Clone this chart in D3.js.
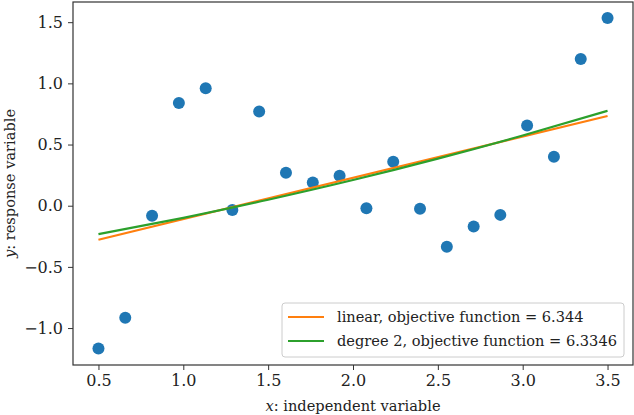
<!DOCTYPE html>
<html>
<head>
<meta charset="utf-8">
<script src="https://cdn.jsdelivr.net/npm/d3@7"></script>
<style>
  body { margin: 0; background: #fff; }
  text { font-family: "DejaVu Serif", serif; fill: #222; }
</style>
</head>
<body>
<div id="chart"></div>
<script>
// observations
var xs = [0.5, 0.658, 0.816, 0.974, 1.132, 1.289, 1.447, 1.605, 1.763, 1.921,
          2.079, 2.237, 2.395, 2.553, 2.711, 2.868, 3.026, 3.184, 3.342, 3.5];
var ys = [-1.168, -0.915, -0.082, 0.84, 0.96, -0.035, 0.77, 0.27, 0.19, 0.245,
          -0.02, 0.36, -0.025, -0.335, -0.17, -0.075, 0.655, 0.40, 1.20, 1.535];

// fitted curves
var linX = [0.5, 3.5];
var linY = [-0.278, 0.733];
var quadX = [0.5, 1.0, 1.5, 2.0, 2.5, 3.0, 3.5];
var quadY = [-0.232, -0.099, 0.049, 0.21, 0.385, 0.574, 0.776];

var xTicks = [0.5, 1.0, 1.5, 2.0, 2.5, 3.0, 3.5];
var yTicks = [-1.0, -0.5, 0.0, 0.5, 1.0, 1.5];

var margin = {top: 2, right: 1, bottom: 50, left: 73},
    width = 634 - margin.left - margin.right,
    height = 415 - margin.top - margin.bottom;

var svg = d3.select("#chart")
    .append("svg")
        .attr("width", 634)
        .attr("height", 415)
    .append("g")
        .attr("transform", "translate(" + margin.left + "," + margin.top + ")");

var x = d3.scaleLinear()
    .domain([0.35, 3.65])
    .range([0, width]);

var y = d3.scaleLinear()
    .domain([-1.302, 1.665])
    .range([height, 0]);

var xAxis = svg.append("g")
    .attr("transform", "translate(0," + height + ")")
    .call(d3.axisBottom(x).tickValues(xTicks).tickFormat(d3.format(".1f")).tickSize(5).tickPadding(5));

var yAxis = svg.append("g")
    .call(d3.axisLeft(y).tickValues(yTicks).tickFormat(function(d) {
        return d3.format(".1f")(d).replace("-", "\u2212");
    }).tickSize(5).tickPadding(5));

[xAxis, yAxis].forEach(function(a) {
    a.select(".domain").remove();
    a.selectAll("line").attr("stroke", "#333").attr("stroke-width", 1);
    a.selectAll("text").style("font-size", "16px").attr("fill", "#222");
});

// frame
svg.append("rect")
    .attr("x", 0).attr("y", 0)
    .attr("width", width).attr("height", height)
    .attr("fill", "none")
    .attr("stroke", "#333")
    .attr("stroke-width", 1.2);

svg.append("g")
    .selectAll("circle")
    .data(xs)
    .enter()
    .append("circle")
        .attr("cx", function(d) { return x(d); })
        .attr("cy", function(d, i) { return y(ys[i]); })
        .attr("r", 6)
        .attr("fill", "#1f77b4");

svg.append("path")
    .datum(linX)
    .attr("fill", "none")
    .attr("stroke", "#ff7f0e")
    .attr("stroke-width", 2.2)
    .attr("d", d3.line()
        .x(function(d) { return x(d); })
        .y(function(d, i) { return y(linY[i]); }));

svg.append("path")
    .datum(quadX)
    .attr("fill", "none")
    .attr("stroke", "#2ca02c")
    .attr("stroke-width", 2.2)
    .attr("d", d3.line()
        .curve(d3.curveNatural)
        .x(function(d) { return x(d); })
        .y(function(d, i) { return y(quadY[i]); }));

// legend
var legend = svg.append("g")
    .attr("transform", "translate(" + (282 - margin.left) + "," + (303 - margin.top) + ")");

legend.append("rect")
    .attr("width", 342).attr("height", 54)
    .attr("rx", 3)
    .attr("fill", "#fff").attr("fill-opacity", 0.8)
    .attr("stroke", "#ccc");

var entries = [
    {label: "linear, objective function = 6.344", color: "#ff7f0e"},
    {label: "degree 2, objective function = 6.3346", color: "#2ca02c"}
];

entries.forEach(function(e, i) {
    var yy = 14 + i * 24;
    legend.append("line")
        .attr("x1", 6).attr("x2", 42)
        .attr("y1", yy).attr("y2", yy)
        .attr("stroke", e.color).attr("stroke-width", 2.2);
    legend.append("text")
        .attr("x", 55).attr("y", yy)
        .attr("dy", "0.35em")
        .style("font-size", "14.6px")
        .text(e.label);
});

// axis labels
var xl = svg.append("text")
    .attr("x", width / 2)
    .attr("y", height + 46)
    .style("text-anchor", "middle")
    .style("font-size", "14.6px");
xl.append("tspan").style("font-style", "italic").text("x");
xl.append("tspan").text(": independent variable");

var yl = svg.append("text")
    .attr("transform", "translate(" + (-58) + "," + (height / 2) + ") rotate(-90)")
    .style("text-anchor", "middle")
    .style("font-size", "14.6px");
yl.append("tspan").style("font-style", "italic").text("y");
yl.append("tspan").text(": response variable");
</script>
</body>
</html>
